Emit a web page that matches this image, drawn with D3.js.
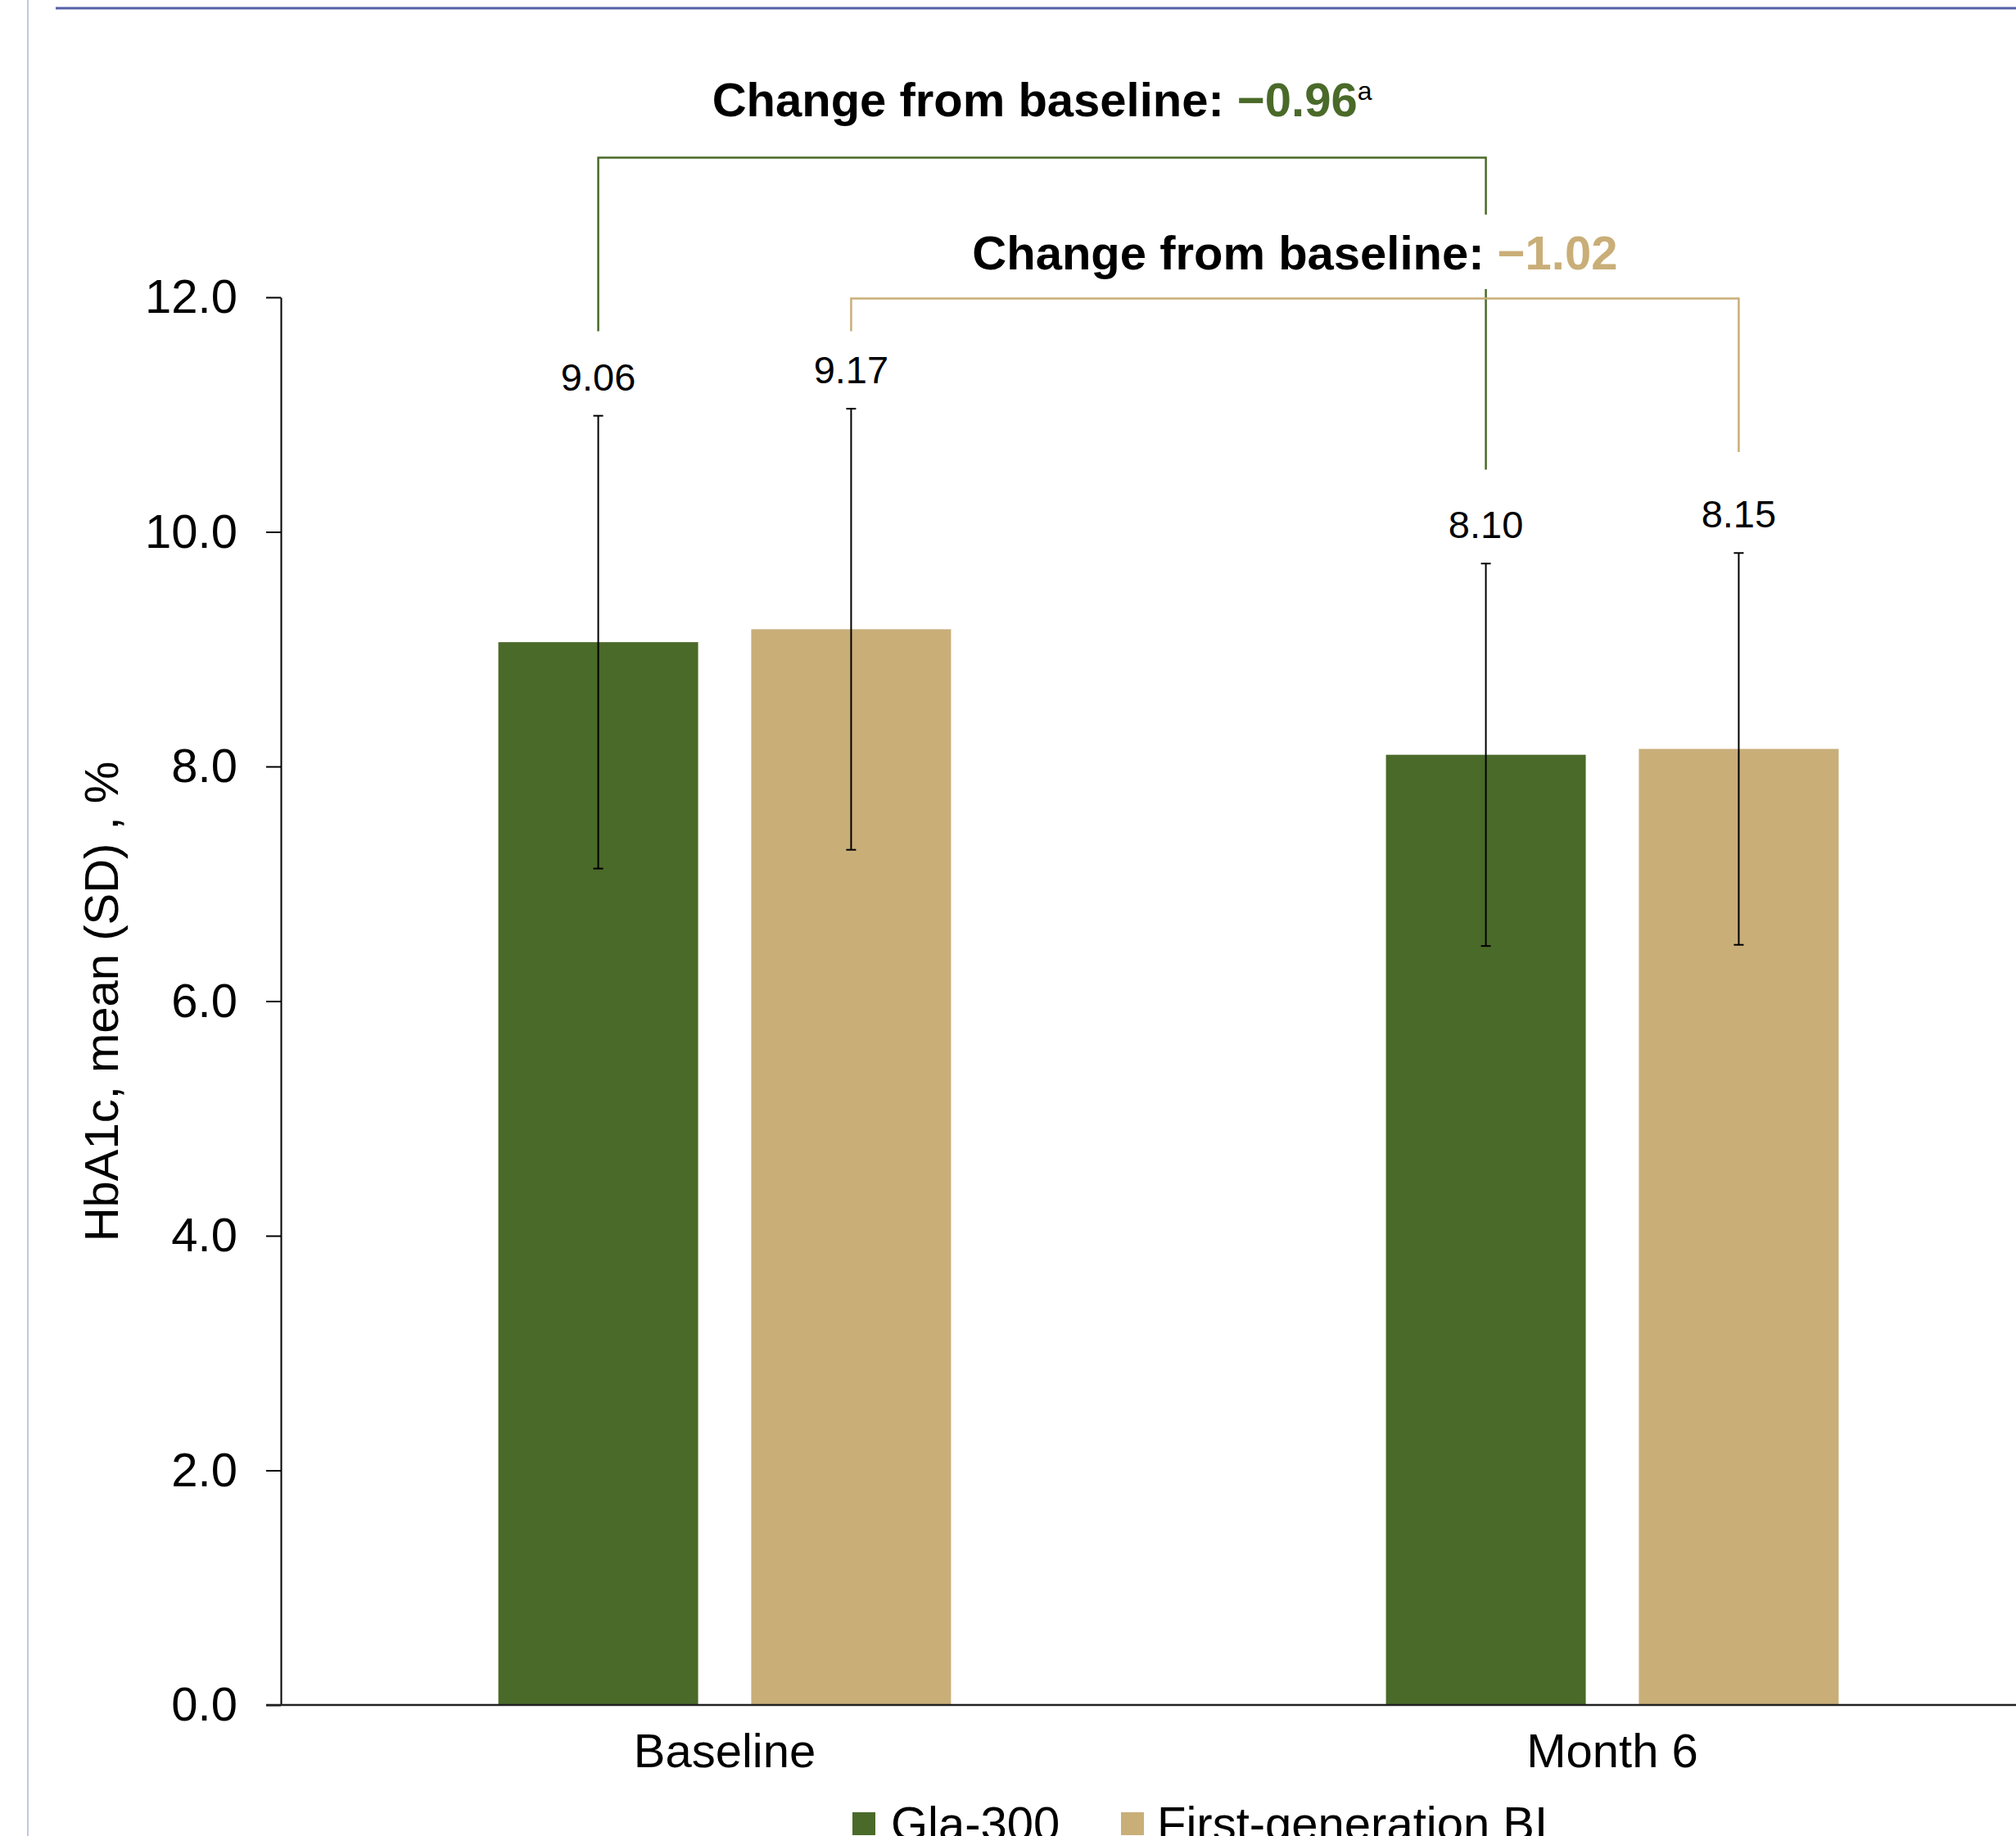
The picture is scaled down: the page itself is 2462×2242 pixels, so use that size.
<!DOCTYPE html>
<html>
<head>
<meta charset="utf-8">
<script src="https://cdn.jsdelivr.net/npm/d3@7"></script>
<style>
  html, body { margin: 0; padding: 0; background: #fff; }
  svg { display: block; }
  text { font-family: "Liberation Sans", Arial, Helvetica, sans-serif; }
</style>
</head>
<body>
<script>
// ---------------- data ----------------
const categories = ["Baseline", "Month 6"];
const series = ["Gla-300", "First-generation BI"];
const meanGla = [9.06, 8.10];
const meanBI = [9.17, 8.15];
const sdGla = [1.93, 1.63];
const sdBI = [1.88, 1.67];
const valueLabels = [["9.06", "8.10"], ["9.17", "8.15"]];
const yTicks = [0, 2, 4, 6, 8, 10, 12];
const changeLabels = ["−0.96", "−1.02"];
const changeNote = "a";
const yTitle = "HbA1c, mean (SD) , %";

// ---------------- layout ----------------
const W = 2462, H = 2242;
const colors = ["#4a6a29", "#c9ae78"];
const font = "'Liberation Sans', Arial, Helvetica, sans-serif";

const svg = d3.select("body").append("svg")
  .attr("width", W).attr("height", H)
  .attr("viewBox", `0 0 ${W} ${H}`);
svg.append("rect").attr("width", W).attr("height", H).attr("fill", "#fff");

// frame decorations
svg.append("line").attr("x1", 34).attr("x2", 34).attr("y1", 0).attr("y2", H)
  .attr("stroke", "#c3c6e2").attr("stroke-width", 2);
svg.append("line").attr("x1", 68).attr("x2", W).attr("y1", 10).attr("y2", 10)
  .attr("stroke", "#5560a8").attr("stroke-width", 3);

const y = d3.scaleLinear().domain([0, 12]).range([2082, 363]);
const x0 = d3.scaleBand().domain(categories).range([343, 343 + 2 * 1084]).padding(0);
const x1 = d3.scaleBand().domain(series).range([0, x0.bandwidth()])
  .paddingInner(0.21).paddingOuter(0.86);

const means = [meanGla, meanBI];
const sds = [sdGla, sdBI];
const bars = [];
series.forEach((s, si) => {
  categories.forEach((c, ci) => {
    bars.push({ s, si, c, ci, v: means[si][ci], sd: sds[si][ci], label: valueLabels[si][ci] });
  });
});
const cx = d => x0(d.c) + x1(d.s) + x1.bandwidth() / 2;

// bars
svg.append("g").selectAll("rect").data(bars).join("rect")
  .attr("x", d => x0(d.c) + x1(d.s))
  .attr("width", x1.bandwidth())
  .attr("y", d => y(d.v))
  .attr("height", d => y(0) - y(d.v))
  .attr("fill", d => colors[d.si]);

// error bars
const eg = svg.append("g").attr("stroke", "#000").attr("stroke-width", 2);
bars.forEach(d => {
  const xc = cx(d);
  eg.append("line").attr("x1", xc).attr("x2", xc)
    .attr("y1", y(d.v + d.sd)).attr("y2", y(d.v - d.sd));
  [d.v + d.sd, d.v - d.sd].forEach(v => {
    eg.append("line").attr("x1", xc - 6).attr("x2", xc + 6)
      .attr("y1", y(v)).attr("y2", y(v));
  });
});

// value labels
svg.append("g").selectAll("text").data(bars).join("text")
  .attr("x", d => cx(d))
  .attr("y", d => y(d.v + d.sd) - 31)
  .attr("text-anchor", "middle")
  .attr("font-size", 47)
  .attr("fill", "#000")
  .text(d => d.label);

// y axis
const yAxis = d3.axisLeft(y).tickValues(yTicks).tickFormat(d3.format(".1f"))
  .tickSize(18).tickSizeOuter(0).tickPadding(35);
const ga = svg.append("g").attr("transform", `translate(343,0)`).call(yAxis);
ga.select(".domain").attr("stroke", "#000").attr("stroke-width", 2);
ga.selectAll(".tick line").attr("stroke", "#000").attr("stroke-width", 2);
ga.selectAll(".tick text").attr("font-size", 58).attr("font-family", font).attr("fill", "#000");

// x axis line
svg.append("line").attr("x1", 325).attr("x2", W).attr("y1", y(0)).attr("y2", y(0))
  .attr("stroke", "#222").attr("stroke-width", 2.5);

// category labels
svg.append("g").selectAll("text").data(categories).join("text")
  .attr("x", d => x0(d) + x0.bandwidth() / 2)
  .attr("y", 2158)
  .attr("text-anchor", "middle")
  .attr("font-size", 58)
  .attr("fill", "#000")
  .text(d => d);

// y title
svg.append("text")
  .attr("transform", "translate(144,1223) rotate(-90)")
  .attr("text-anchor", "middle")
  .attr("font-size", 58)
  .attr("fill", "#000")
  .text(yTitle);

// ---------------- change-from-baseline brackets ----------------
const byKey = (si, ci) => bars.find(b => b.si === si && b.ci === ci);
// bracket levels in axis units
const brackets = [
  { si: 0, top: 13.19, leftEnd: 11.71, rightEnd: 10.53, textY: 13.54, label: changeLabels[0], note: changeNote },
  { si: 1, top: 11.99, leftEnd: 11.71, rightEnd: 10.68, textY: 12.24, label: changeLabels[1], note: null }
];
brackets.forEach(b => {
  const xl = cx(byKey(b.si, 0)), xr = cx(byKey(b.si, 1));
  svg.append("path")
    .attr("d", `M${xl},${y(b.leftEnd)}V${y(b.top)}H${xr}V${y(b.rightEnd)}`)
    .attr("fill", "none").attr("stroke", colors[b.si]).attr("stroke-width", 2.5);
});
brackets.forEach(b => {
  const xl = cx(byKey(b.si, 0)), xr = cx(byKey(b.si, 1));
  const g = svg.append("g");
  const bg = g.append("rect").attr("fill", "#fff");
  const t = g.append("text")
    .attr("x", (xl + xr) / 2).attr("y", y(b.textY))
    .attr("text-anchor", "middle")
    .attr("font-size", 58).attr("font-weight", "bold").attr("fill", "#000");
  t.append("tspan").text("Change from baseline: ");
  t.append("tspan").attr("fill", colors[b.si]).text(b.label);
  if (b.note) {
    t.append("tspan").attr("font-size", 32).attr("font-weight", "normal")
      .attr("dy", -20).attr("fill", "#000").text(b.note);
  }
  if (b.si === 1) {
    const bb = t.node().getBBox();
    bg.attr("x", bb.x - 8).attr("width", bb.width + 16)
      .attr("y", y(12.705)).attr("height", y(12.07) - y(12.705));
  } else {
    bg.remove();
  }
});

// ---------------- legend ----------------
const legend = [
  { name: series[0], c: colors[0], sx: 1041, tx: 1088 },
  { name: series[1], c: colors[1], sx: 1369, tx: 1413 }
];
legend.forEach(l => {
  svg.append("rect").attr("x", l.sx).attr("y", 2213).attr("width", 28).attr("height", 28).attr("fill", l.c);
  svg.append("text").attr("x", l.tx).attr("y", 2247).attr("font-size", 58).attr("fill", "#000").text(l.name);
});
</script>
</body>
</html>
